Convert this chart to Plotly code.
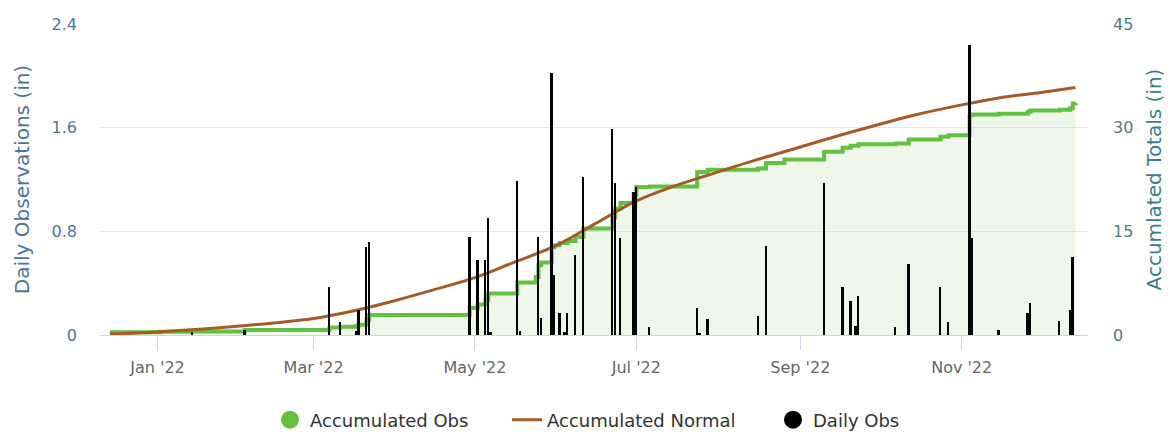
"""
Daily precipitation observations with accumulated obs vs accumulated normal
"""
import plotly.graph_objects as go

# daily observations (in), left axis
daily_dates = [
    "2022-01-14", "2022-02-03", "2022-03-07", "2022-03-11", "2022-03-17",
    "2022-03-18", "2022-03-21", "2022-03-22", "2022-04-29", "2022-05-02",
    "2022-05-05", "2022-05-06", "2022-05-07", "2022-05-17", "2022-05-18",
    "2022-05-25", "2022-05-26", "2022-05-30", "2022-05-31", "2022-06-02",
    "2022-06-04", "2022-06-05", "2022-06-08", "2022-06-11", "2022-06-22",
    "2022-06-23", "2022-06-25", "2022-06-30", "2022-07-01", "2022-07-06",
    "2022-07-24", "2022-07-25", "2022-07-28", "2022-08-16", "2022-08-19",
    "2022-09-10", "2022-09-17", "2022-09-20", "2022-09-22", "2022-09-23",
    "2022-10-07", "2022-10-12", "2022-10-24", "2022-10-27", "2022-11-04",
    "2022-11-05", "2022-11-15", "2022-11-26", "2022-11-27", "2022-12-08",
    "2022-12-12", "2022-12-13",
]
daily_values = [
    0.02, 0.04, 0.37, 0.10, 0.03,
    0.19, 0.68, 0.72, 0.76, 0.58,
    0.58, 0.90, 0.02, 1.19, 0.03,
    0.76, 0.13, 2.02, 0.46, 0.17,
    0.02, 0.17, 0.62, 1.22, 1.59,
    1.17, 0.75, 1.10, 1.14, 0.06,
    0.21, 0.01, 0.12, 0.15, 0.69,
    1.17, 0.37, 0.26, 0.07, 0.30,
    0.06, 0.55, 0.37, 0.10, 2.24,
    0.75, 0.04, 0.17, 0.25, 0.11,
    0.19, 0.60,
]

# accumulated observed totals (in), right axis, at the days they change
acc_dates = [
    "2021-12-14", "2022-01-02", "2022-01-14", "2022-02-03", "2022-03-07",
    "2022-03-11", "2022-03-17", "2022-03-18", "2022-03-21", "2022-03-22",
    "2022-04-29", "2022-05-02", "2022-05-05", "2022-05-06", "2022-05-17",
    "2022-05-24", "2022-05-25", "2022-05-26", "2022-05-30", "2022-05-31",
    "2022-06-02", "2022-06-05", "2022-06-08", "2022-06-11", "2022-06-22",
    "2022-06-23", "2022-06-25", "2022-06-30", "2022-07-01", "2022-07-06",
    "2022-07-24", "2022-07-28", "2022-08-16", "2022-08-19", "2022-08-26",
    "2022-09-10", "2022-09-17", "2022-09-20", "2022-09-23", "2022-10-07",
    "2022-10-12", "2022-10-24", "2022-10-27", "2022-11-04", "2022-11-05",
    "2022-11-15", "2022-11-26", "2022-11-27", "2022-12-08", "2022-12-12",
    "2022-12-13", "2022-12-14",
]
acc_values = [
    0.39, 0.48, 0.50, 0.72, 1.10,
    1.20, 1.30, 1.50, 2.20, 2.90,
    3.90, 4.40, 5.10, 6.00, 7.60,
    8.40, 10.1, 10.5, 12.7, 13.0,
    13.3, 13.6, 14.2, 15.4, 17.0,
    18.3, 19.1, 20.3, 21.4, 21.5,
    23.6, 23.9, 24.1, 24.9, 25.4,
    26.5, 27.1, 27.4, 27.6, 27.7,
    28.3, 28.7, 28.9, 31.8, 31.9,
    32.0, 32.3, 32.5, 32.6, 32.8,
    33.5, 33.6,
]

# accumulated normal (in), right axis
normal_dates = [
    "2021-12-14", "2022-01-01", "2022-02-01", "2022-03-01", "2022-03-15",
    "2022-04-01", "2022-04-15", "2022-05-01", "2022-05-15", "2022-06-01",
    "2022-06-15", "2022-07-01", "2022-07-15", "2022-08-01", "2022-08-15",
    "2022-09-01", "2022-09-15", "2022-10-01", "2022-10-15", "2022-11-01",
    "2022-11-15", "2022-12-01", "2022-12-14",
]
normal_values = [
    0.15, 0.45, 1.3, 2.4, 3.4,
    5.0, 6.5, 8.3, 10.4, 13.0,
    16.0, 19.4, 21.5, 23.6, 25.3,
    27.2, 28.8, 30.5, 31.9, 33.3,
    34.3, 35.1, 35.8,
]

GREEN = "#62c13f"
BROWN = "#a65a28"
FONT = "DejaVu Sans"

# page body has an 8px margin, so the figure is 8px smaller than the window
W, H = 1164, 428

fig = go.Figure()

fig.add_trace(go.Scatter(
    x=acc_dates, y=acc_values, mode="lines",
    line=dict(color=GREEN, width=4, shape="hv"),
    fill="tozeroy", fillcolor="rgba(120,190,80,0.12)",
    showlegend=False, hoverinfo="skip", yaxis="y",
))
fig.add_trace(go.Scatter(
    x=normal_dates, y=normal_values, mode="lines",
    line=dict(color=BROWN, width=3, shape="spline", smoothing=1),
    showlegend=False, hoverinfo="skip", yaxis="y",
))
fig.add_trace(go.Bar(
    x=daily_dates, y=daily_values, yaxis="y2",
    marker=dict(color="black", line_width=0),
    width=[0.7 * 86400000] * len(daily_dates),
    showlegend=False,
))

# legend entries, one legend each so they can be placed like the original
fig.add_trace(go.Scatter(x=[None], y=[None], mode="markers", name="Accumulated Obs",
                         marker=dict(color=GREEN, size=18, line=dict(color=GREEN, width=2)),
                         legend="legend"))
fig.add_trace(go.Scatter(x=[None], y=[None], mode="lines", name="Accumulated Normal",
                         line=dict(color=BROWN, width=3), legend="legend2"))
fig.add_trace(go.Scatter(x=[None], y=[None], mode="markers", name="Daily Obs",
                         marker=dict(color="black", size=18, line=dict(color="black", width=2)),
                         legend="legend3"))

legend_style = dict(
    orientation="h", xref="container", yref="container",
    xanchor="left", yanchor="middle", y=1 - 412 / H,
    font=dict(size=18, color="#333333"), bgcolor="rgba(0,0,0,0)",
)

fig.update_layout(
    width=W, height=H,
    margin=dict(l=92, r=84, t=16, b=101),
    paper_bgcolor="white", plot_bgcolor="white",
    font=dict(family=FONT, size=16, color="#666666"),
    bargap=0,
    xaxis=dict(
        type="date",
        range=["2021-12-10 06:00", "2022-12-18 18:00"],
        tick0="2022-01-01", dtick="M2", tickformat="%b '%y",
        ticks="outside", ticklen=14, tickcolor="#ccd6eb",
        ticklabelstandoff=4,
        showline=True, linecolor="#ccd6eb", linewidth=1,
        showgrid=False, zeroline=False,
        tickfont=dict(size=16, color="#666666"),
    ),
    yaxis=dict(
        side="right", range=[0, 45], tick0=0, dtick=15,
        showgrid=True, gridcolor="#e6e6e6", zeroline=False,
        ticklabelstandoff=24,
        tickfont=dict(size=16, color="#4a7f80"),
        title=dict(text="Accumlated Totals (in)", standoff=14,
                   font=dict(size=20, color="#3b7f86")),
        automargin=False,
    ),
    yaxis2=dict(
        overlaying="y", side="left", range=[0, 2.4], tick0=0, dtick=0.8,
        showgrid=False, zeroline=False,
        ticklabelstandoff=22,
        tickfont=dict(size=16, color="#50739a"),
        title=dict(text="Daily Observations (in)", standoff=16,
                   font=dict(size=20, color="#4f7394")),
        automargin=False,
    ),
    legend=dict(legend_style, x=262 / W),
    legend2=dict(legend_style, x=499 / W),
    legend3=dict(legend_style, x=765 / W),
)

fig.write_html("out.html")
